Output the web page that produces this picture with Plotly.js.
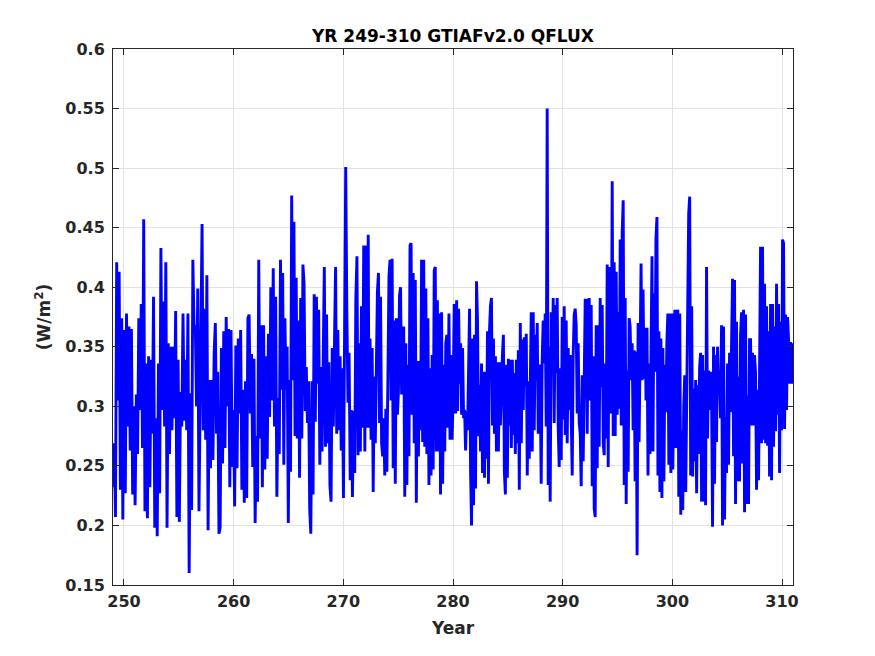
<!DOCTYPE html>
<html>
<head>
<meta charset="utf-8">
<script src="https://cdn.plot.ly/plotly-3.0.1.min.js"></script>
<style>html,body{margin:0;padding:0;background:#fff;}#chart{width:875px;height:656px;}</style>
</head>
<body>
<div id="chart"></div>
<script>
// Values (W/m^2), in time order, grouped by stretch of years
const seg1Years = [249.0, 256.84];
const seg1 = [0.232,0.269,0.207,0.421,0.305,0.413,0.230,0.374,0.205,0.364,
0.227,0.378,0.283,0.367,0.263,0.365,0.226,0.300,0.217,0.310,
0.260,0.374,0.297,0.386,0.265,0.457,0.212,0.336,0.206,0.342,
0.232,0.339,0.277,0.392,0.198,0.290,0.191,0.336,0.227,0.433,
0.297,0.388,0.283,0.421,0.198,0.353,0.260,0.350,0.280,0.350,
0.290,0.380,0.207,0.339,0.203,0.312,0.283,0.378,0.288,0.339,
0.280,0.378,0.160,0.311,0.213,0.423,0.367,0.368,0.300,0.399,0.212];

const seg2Years = [256.90, 264.38];
const seg2 = [0.268,0.413,0.453,0.280,0.382,0.272,0.410,0.196,0.322,0.248,
0.322,0.255,0.344,0.370,0.277,0.329,0.193,0.198,0.349,0.252,
0.363,0.265,0.375,0.300,0.365,0.232,0.364,0.249,0.297,0.216,
0.351,0.248,0.357,0.294,0.364,0.230,0.314,0.219,0.321,0.223,
0.374,0.377,0.294,0.344,0.249,0.340,0.202,0.275,0.220,0.423,
0.273,0.368,0.232,0.368,0.247,0.342,0.256,0.361,0.291,0.400,
0.305,0.416,0.283,0.392,0.224,0.307,0.260,0.423,0.314];

const seg3Years = [264.47, 272.27];
const seg3 = [0.412,0.251,0.374,0.314,0.350,0.202,0.322,0.245,0.477,0.322,
0.455,0.275,0.408,0.273,0.372,0.240,0.391,0.273,0.419,0.403,
0.296,0.333,0.286,0.321,0.214,0.193,0.321,0.226,0.394,0.287,
0.392,0.319,0.381,0.251,0.333,0.262,0.339,0.417,0.266,0.377,
0.269,0.337,0.233,0.220,0.349,0.283,0.352,0.417,0.277,0.364,
0.280,0.342,0.263,0.332,0.223,0.419,0.501,0.382,0.303,0.345,
0.238,0.297,0.224,0.296,0.244,0.391,0.426,0.259,0.353,0.262,
0.384,0.282,0.435,0.262,0.435,0.282,0.444];

const seg4Years = [272.34, 280.11];
const seg4 = [0.282,0.357,0.272,0.349,0.228,0.325,0.269,0.326,0.396,0.412,
0.286,0.392,0.269,0.258,0.290,0.242,0.298,0.245,0.318,0.409,
0.423,0.305,0.424,0.248,0.372,0.235,0.374,0.293,0.312,0.393,
0.400,0.310,0.326,0.367,0.224,0.353,0.234,0.335,0.258,0.435,
0.437,0.293,0.412,0.269,0.406,0.219,0.338,0.258,0.338,0.280,
0.423,0.270,0.423,0.266,0.399,0.260,0.374,0.234,0.332,0.242,
0.343,0.247,0.414,0.417,0.262,0.389,0.262,0.378,0.226,0.379,
0.235,0.335,0.262,0.353,0.360,0.282,0.378,0.272,0.343,0.272,
0.308,0.386];

const seg5Years = [280.24, 287.86];
const seg5 = [0.294,0.389,0.296,0.382,0.319,0.353,0.293,0.349,0.290,0.297,
0.263,0.296,0.280,0.346,0.382,0.247,0.200,0.357,0.217,0.360,
0.231,0.405,0.372,0.275,0.318,0.262,0.336,0.244,0.329,0.240,
0.329,0.256,0.363,0.235,0.363,0.384,0.391,0.284,0.357,0.277,
0.342,0.262,0.337,0.262,0.337,0.284,0.321,0.342,0.360,0.245,
0.226,0.335,0.240,0.340,0.284,0.339,0.265,0.339,0.276,0.328,
0.260,0.339,0.269,0.347,0.230,0.370,0.269,0.356,0.297,0.358,
0.317,0.361,0.242,0.321,0.256,0.352,0.379,0.262,0.379,0.280,
0.360,0.322,0.370,0.277,0.335];

const seg6Years = [287.95, 295.61];
const seg6 = [0.316,0.235,0.340,0.372,0.336,0.378,0.283,0.550,0.234,0.350,
0.220,0.379,0.328,0.391,0.286,0.385,0.328,0.391,0.282,0.249,
0.332,0.255,0.375,0.289,0.384,0.276,0.372,0.269,0.349,0.297,
0.343,0.279,0.242,0.343,0.377,0.382,0.368,0.294,0.353,0.286,
0.277,0.233,0.326,0.254,0.344,0.389,0.389,0.277,0.372,0.391,
0.305,0.385,0.233,0.342,0.214,0.207,0.368,0.248,0.368,0.266,
0.391,0.316,0.385,0.269,0.259,0.336,0.273,0.419,0.249,0.417,
0.370,0.294,0.489,0.275,0.421,0.275,0.413,0.293,0.379,0.298,
0.440,0.284,0.447,0.473,0.234];

const seg7Years = [295.70, 303.30];
const seg7 = [0.391,0.218,0.330,0.245,0.374,0.367,0.322,0.353,0.280,0.347,
0.237,0.346,0.175,0.370,0.270,0.342,0.420,0.322,0.398,0.323,
0.366,0.305,0.366,0.242,0.336,0.260,0.336,0.426,0.262,0.395,
0.329,0.441,0.459,0.242,0.363,0.228,0.357,0.223,0.349,0.237,
0.335,0.295,0.354,0.378,0.251,0.378,0.244,0.378,0.247,0.349,
0.381,0.265,0.378,0.381,0.224,0.378,0.209,0.280,0.213,0.300,
0.326,0.228,0.328,0.361,0.462,0.476,0.242,0.384,0.241,0.315,
0.254,0.322,0.227,0.318,0.260,0.333,0.345,0.220,0.343,0.220,
0.330,0.217,0.417,0.273,0.330];

const seg8Years = [303.39, 310.96];
const seg8 = [0.297,0.329,0.312,0.199,0.350,0.235,0.343,0.270,0.350,0.314,
0.325,0.290,0.368,0.200,0.367,0.205,0.291,0.244,0.336,0.251,
0.345,0.295,0.352,0.407,0.258,0.406,0.218,0.371,0.237,0.325,
0.237,0.360,0.379,0.252,0.381,0.211,0.377,0.218,0.309,0.218,
0.356,0.356,0.284,0.345,0.284,0.343,0.328,0.230,0.314,0.238,
0.329,0.434,0.269,0.434,0.272,0.403,0.269,0.384,0.267,0.363,
0.241,0.386,0.238,0.386,0.266,0.367,0.279,0.403,0.293,0.386,
0.244,0.371,0.280,0.440,0.437,0.281,0.377,0.297,0.375,0.356,
0.319,0.354,0.319,0.353];

const xTicks = [250, 260, 270, 280, 290, 300, 310];
const yTicks = [0.15, 0.2, 0.25, 0.3, 0.35, 0.4, 0.45, 0.5, 0.55, 0.6];

const segments = [
  [seg1, seg1Years], [seg2, seg2Years], [seg3, seg3Years], [seg4, seg4Years],
  [seg5, seg5Years], [seg6, seg6Years], [seg7, seg7Years], [seg8, seg8Years]
];

const xs = [], ys = [];
segments.forEach(([vals, span]) => {
  const n = vals.length;
  vals.forEach((v, i) => {
    xs.push(span[0] + (span[1] - span[0]) * i / (n - 1));
    ys.push(v);
  });
});

const fam = 'DejaVu Sans, sans-serif';

const trace = {
  x: xs, y: ys, type: 'scatter', mode: 'lines',
  line: {color: '#0000ff', width: 2.9},
  hoverinfo: 'skip'
};

const axisCommon = {
  showline: true, linecolor: '#262626', linewidth: 1,
  mirror: 'ticks', ticks: 'inside', ticklen: 6, tickcolor: '#262626',
  showgrid: true, gridcolor: '#e2e2e2', gridwidth: 1,
  zeroline: false,
  tickfont: {family: fam, size: 16, color: '#262626', weight: 'bold'}
};

const layout = {
  width: 875, height: 656,
  paper_bgcolor: '#ffffff', plot_bgcolor: '#ffffff',
  margin: {l: 113, r: 82, t: 49, b: 71, pad: 0},
  showlegend: false,
  title: {
    text: '<b>YR 249-310 GTIAFv2.0 QFLUX</b>',
    font: {family: fam, size: 17, color: '#000000'},
    x: 0.5, xref: 'paper', xanchor: 'center',
    y: 1 - 36 / 656, yref: 'container', yanchor: 'middle'
  },
  xaxis: Object.assign({}, axisCommon, {
    range: [249, 311], tickvals: xTicks, ticktext: xTicks.map(String),
    ticklabelstandoff: 2,
    title: {text: '<b>Year</b>', font: {family: fam, size: 17, color: '#262626'}, standoff: 11}
  }),
  yaxis: Object.assign({}, axisCommon, {
    range: [0.15, 0.6], tickvals: yTicks, ticktext: yTicks.map(String),
    ticklabelstandoff: 4,
    title: {text: '<b>(W/m<sup>2</sup>)</b>', font: {family: fam, size: 17, color: '#262626'}, standoff: 10}
  })
};

Plotly.newPlot('chart', [trace], layout, {displayModeBar: false, staticPlot: true});
</script>
</body>
</html>
